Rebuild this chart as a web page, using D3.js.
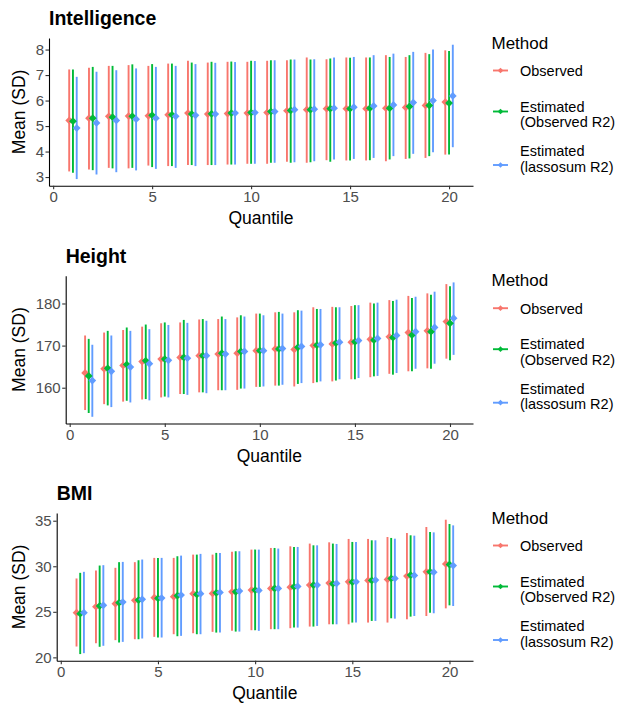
<!DOCTYPE html>
<html>
<head>
<meta charset="utf-8">
<script src="https://cdn.jsdelivr.net/npm/d3@7/dist/d3.min.js"></script>
<style>
  body { margin: 0; background: #fff; }
  svg { font-family: "Liberation Sans", Arial, sans-serif; }
</style>
</head>
<body>
<svg id="chart" width="619" height="703"></svg>
<script>
// quantiles and methods
const quantiles = [1, 2, 3, 4, 5, 6, 7, 8, 9, 10, 11, 12, 13, 14, 15, 16, 17, 18, 19, 20];
const methods = ["Observed", "Estimated (Observed R2)", "Estimated (lassosum R2)"];
const methodLabels = [["Observed"], ["Estimated", "(Observed R2)"], ["Estimated", "(lassosum R2)"]];
const methodColors = ["#F8766D", "#00BA38", "#619CFF"];
const xTicks = [0, 5, 10, 15, 20];

// Intelligence
const intelObsMean = [5.22, 5.31, 5.38, 5.39, 5.40, 5.44, 5.51, 5.47, 5.49, 5.51, 5.53, 5.60, 5.64, 5.68, 5.68, 5.68, 5.70, 5.73, 5.81, 5.94];
const intelObsLo   = [3.22, 3.30, 3.36, 3.34, 3.45, 3.43, 3.47, 3.47, 3.49, 3.52, 3.52, 3.60, 3.56, 3.66, 3.65, 3.65, 3.62, 3.71, 3.75, 3.88];
const intelObsHi   = [7.22, 7.29, 7.36, 7.39, 7.36, 7.45, 7.56, 7.49, 7.52, 7.52, 7.56, 7.58, 7.69, 7.62, 7.69, 7.69, 7.78, 7.71, 7.87, 7.97];
const intelEstMean = [5.19, 5.31, 5.35, 5.38, 5.42, 5.44, 5.47, 5.48, 5.51, 5.53, 5.57, 5.61, 5.64, 5.68, 5.68, 5.70, 5.70, 5.77, 5.81, 5.90];
const intelEstLo   = [3.17, 3.27, 3.34, 3.36, 3.39, 3.43, 3.47, 3.47, 3.49, 3.52, 3.56, 3.56, 3.58, 3.60, 3.65, 3.66, 3.69, 3.73, 3.82, 3.88];
const intelEstHi   = [7.22, 7.32, 7.36, 7.42, 7.43, 7.45, 7.49, 7.52, 7.53, 7.56, 7.58, 7.61, 7.61, 7.65, 7.68, 7.69, 7.71, 7.78, 7.82, 7.94];
const intelLasMean = [4.92, 5.12, 5.22, 5.27, 5.31, 5.38, 5.42, 5.47, 5.51, 5.53, 5.57, 5.64, 5.66, 5.70, 5.74, 5.79, 5.83, 5.92, 6.00, 6.18];
const intelLasLo   = [2.92, 3.10, 3.19, 3.26, 3.32, 3.36, 3.43, 3.47, 3.49, 3.52, 3.56, 3.58, 3.62, 3.69, 3.71, 3.75, 3.82, 3.91, 3.97, 4.17];
const intelLasHi   = [6.93, 7.13, 7.19, 7.26, 7.32, 7.36, 7.43, 7.48, 7.51, 7.55, 7.58, 7.61, 7.62, 7.69, 7.71, 7.78, 7.84, 7.91, 8.00, 8.19];

// Height
const heightObsMean = [163.5, 164.5, 165.3, 166.2, 166.8, 167.2, 167.6, 168.0, 168.2, 168.8, 169.2, 169.1, 170.0, 170.4, 170.8, 171.5, 172.1, 173.1, 173.5, 175.7];
const heightObsLo   = [154.7, 156.1, 156.7, 157.2, 157.7, 158.5, 158.9, 159.4, 159.5, 160.2, 160.5, 160.3, 161.1, 161.5, 162.0, 162.5, 163.3, 163.9, 164.6, 166.9];
const heightObsHi   = [172.4, 173.1, 173.7, 174.5, 175.3, 175.5, 176.2, 176.3, 176.7, 177.6, 177.9, 177.9, 179.1, 179.2, 179.4, 180.2, 180.8, 181.8, 182.4, 184.6];
const heightEstMean = [162.8, 164.6, 165.5, 166.4, 166.8, 167.2, 167.6, 168.2, 168.6, 168.8, 169.2, 169.6, 170.1, 170.6, 170.9, 171.3, 171.9, 172.5, 173.3, 175.3];
const heightEstLo   = [154.0, 155.8, 156.9, 157.3, 157.9, 158.5, 158.9, 159.4, 159.8, 160.2, 160.5, 160.9, 161.3, 161.7, 162.0, 162.7, 163.1, 163.9, 164.5, 166.5];
const heightEstHi   = [171.6, 173.5, 174.3, 175.0, 175.5, 176.1, 176.3, 176.9, 177.2, 177.6, 178.0, 178.4, 178.7, 179.1, 179.6, 180.0, 180.6, 181.3, 182.1, 184.1];
const heightLasMean = [161.7, 163.9, 164.9, 165.7, 166.5, 167.0, 167.6, 168.0, 168.6, 168.8, 169.3, 169.8, 170.2, 170.8, 171.2, 171.7, 172.4, 173.3, 174.3, 176.5];
const heightLasLo   = [153.1, 155.4, 156.5, 157.0, 157.7, 158.3, 158.7, 159.4, 159.8, 160.3, 160.7, 161.1, 161.5, 162.0, 162.3, 162.8, 163.5, 164.5, 165.7, 167.8];
const heightLasHi   = [170.2, 172.4, 173.5, 173.9, 174.9, 175.4, 175.9, 176.3, 176.9, 177.2, 177.6, 178.3, 178.7, 179.1, 179.6, 180.2, 180.9, 181.6, 182.8, 185.0];

// BMI
const bmiObsMean = [24.91, 25.56, 25.89, 26.26, 26.55, 26.66, 26.99, 27.02, 27.20, 27.39, 27.57, 27.71, 27.93, 28.15, 28.30, 28.44, 28.55, 28.92, 29.39, 30.26];
const bmiObsLo   = [21.19, 21.56, 21.89, 21.99, 22.25, 22.54, 22.65, 22.80, 22.91, 22.98, 23.09, 23.20, 23.38, 23.63, 23.63, 23.82, 23.82, 24.18, 24.54, 25.38];
const bmiObsHi   = [28.66, 29.54, 29.83, 30.45, 30.92, 30.92, 31.28, 31.28, 31.58, 31.83, 32.01, 32.19, 32.49, 32.63, 33.00, 33.00, 33.21, 33.65, 34.31, 35.11];
const bmiEstMean = [24.80, 25.64, 26.00, 26.29, 26.48, 26.77, 26.91, 27.09, 27.20, 27.39, 27.57, 27.75, 27.93, 28.08, 28.26, 28.44, 28.66, 29.03, 29.39, 30.19];
const bmiEstLo   = [20.36, 21.16, 21.63, 21.99, 22.18, 22.32, 22.54, 22.72, 22.83, 22.98, 23.09, 23.27, 23.38, 23.63, 23.82, 24.00, 24.29, 24.47, 24.91, 25.71];
const bmiEstHi   = [29.28, 30.08, 30.45, 30.66, 30.92, 31.10, 31.28, 31.47, 31.65, 31.83, 32.01, 32.12, 32.30, 32.49, 32.67, 32.85, 33.11, 33.40, 33.76, 34.64];
const bmiLasMean = [24.91, 25.71, 26.07, 26.37, 26.51, 26.84, 26.99, 27.13, 27.28, 27.35, 27.57, 27.79, 27.93, 28.11, 28.30, 28.48, 28.66, 28.99, 29.35, 30.08];
const bmiLasLo   = [20.46, 21.27, 21.70, 22.07, 22.18, 22.36, 22.54, 22.72, 22.83, 22.91, 23.09, 23.27, 23.45, 23.63, 23.82, 24.00, 24.25, 24.54, 24.84, 25.64];
const bmiLasHi   = [29.39, 30.12, 30.48, 30.74, 30.92, 31.17, 31.36, 31.47, 31.65, 31.83, 31.94, 32.12, 32.30, 32.45, 32.67, 32.85, 33.03, 33.36, 33.72, 34.49];

const panels = [
  { title: "Intelligence", yTicks: [3, 4, 5, 6, 7, 8],
    mean: [intelObsMean, intelEstMean, intelLasMean], lo: [intelObsLo, intelEstLo, intelLasLo], hi: [intelObsHi, intelEstHi, intelLasHi] },
  { title: "Height", yTicks: [160, 170, 180],
    mean: [heightObsMean, heightEstMean, heightLasMean], lo: [heightObsLo, heightEstLo, heightLasLo], hi: [heightObsHi, heightEstHi, heightLasHi] },
  { title: "BMI", yTicks: [20, 25, 30, 35],
    mean: [bmiObsMean, bmiEstMean, bmiLasMean], lo: [bmiObsLo, bmiEstLo, bmiLasLo], hi: [bmiObsHi, bmiEstHi, bmiLasHi] }
];

// layout
const panelTops = [38, 275.7, 513];
const panelLefts = [49, 65.7, 56.7];
const panelRight = 473;
const panelH = 147.8;
const dodge = [-0.19, 0, 0.19];

const svg = d3.select("#chart");
const diamond = d3.symbol().type(d3.symbolSquare);

panels.forEach((p, pi) => {
  const top = panelTops[pi], left = panelLefts[pi], bottom = top + panelH;

  // one row per quantile x method
  const rows = [];
  quantiles.forEach((q, i) => {
    methods.forEach((m, mi) => {
      rows.push({ q, mi, mean: p.mean[mi][i], lo: p.lo[mi][i], hi: p.hi[mi][i] });
    });
  });

  const x = d3.scaleLinear().domain([-0.21, 21.21]).range([left, panelRight]);
  const ext = [d3.min(rows, d => d.lo), d3.max(rows, d => d.hi)];
  const pad = (ext[1] - ext[0]) * 0.05;
  const y = d3.scaleLinear().domain([ext[0] - pad, ext[1] + pad]).range([bottom, top]);

  const g = svg.append("g");

  // error bars
  g.append("g").selectAll("line")
    .data(rows)
    .enter()
    .append("line")
    .attr("x1", d => x(d.q + dodge[d.mi]))
    .attr("x2", d => x(d.q + dodge[d.mi]))
    .attr("y1", d => y(d.lo))
    .attr("y2", d => y(d.hi))
    .attr("stroke", d => methodColors[d.mi])
    .attr("stroke-width", 1.9);

  // points
  g.append("g").selectAll("path")
    .data(rows)
    .enter()
    .append("path")
    .attr("d", diamond.size(30))
    .attr("transform", d => `translate(${x(d.q + dodge[d.mi])},${y(d.mean)}) rotate(45)`)
    .attr("fill", d => methodColors[d.mi]);

  // axes
  const xAxis = g.append("g")
    .attr("transform", `translate(0,${bottom})`)
    .call(d3.axisBottom(x).tickValues(xTicks).tickFormat(d3.format("d"))
      .tickSizeInner(3.5).tickSizeOuter(0).tickPadding(2));
  const yAxis = g.append("g")
    .attr("transform", `translate(${left},0)`)
    .call(d3.axisLeft(y).tickValues(p.yTicks).tickFormat(d3.format("d"))
      .tickSizeInner(3.5).tickSizeOuter(0).tickPadding(1.5));
  [xAxis, yAxis].forEach(a => {
    a.select(".domain").attr("stroke", "#000").attr("stroke-width", 1.1);
    a.selectAll(".tick line").attr("stroke", "#333").attr("stroke-width", 1.1);
    a.selectAll("text").attr("font-size", 15).attr("fill", "#4d4d4d")
      .attr("font-family", "Liberation Sans, Arial, sans-serif");
  });

  // titles
  g.append("text")
    .attr("x", left).attr("y", top - 13)
    .attr("font-size", 19.5).attr("font-weight", "bold").attr("fill", "#000")
    .text(p.title);
  g.append("text")
    .attr("x", (left + panelRight) / 2).attr("y", bottom + 38.5)
    .attr("text-anchor", "middle").attr("font-size", 17.5).attr("fill", "#000")
    .text("Quantile");
  g.append("text")
    .attr("transform", `translate(25,${(top + bottom) / 2}) rotate(-90)`)
    .attr("text-anchor", "middle").attr("font-size", 17.5).attr("fill", "#000")
    .text("Mean (SD)");

  // legend
  const lg = g.append("g").attr("transform", `translate(0,${top})`);
  lg.append("text").attr("x", 491.5).attr("y", 10.5)
    .attr("font-size", 17).attr("fill", "#000").text("Method");
  const keyY = [32.5, 73.5, 127];
  const textY = [[38], [73.5, 89], [118, 133.5]];
  methods.forEach((m, mi) => {
    lg.append("line")
      .attr("x1", 493).attr("x2", 508)
      .attr("y1", keyY[mi]).attr("y2", keyY[mi])
      .attr("stroke", methodColors[mi]).attr("stroke-width", 1.9);
    lg.append("path")
      .attr("d", diamond.size(16))
      .attr("transform", `translate(500.5,${keyY[mi]}) rotate(45)`)
      .attr("fill", methodColors[mi]);
    methodLabels[mi].forEach((t, li) => {
      lg.append("text").attr("x", 520).attr("y", textY[mi][li])
        .attr("font-size", 14.5).attr("fill", "#000").text(t);
    });
  });
});
</script>
</body>
</html>
